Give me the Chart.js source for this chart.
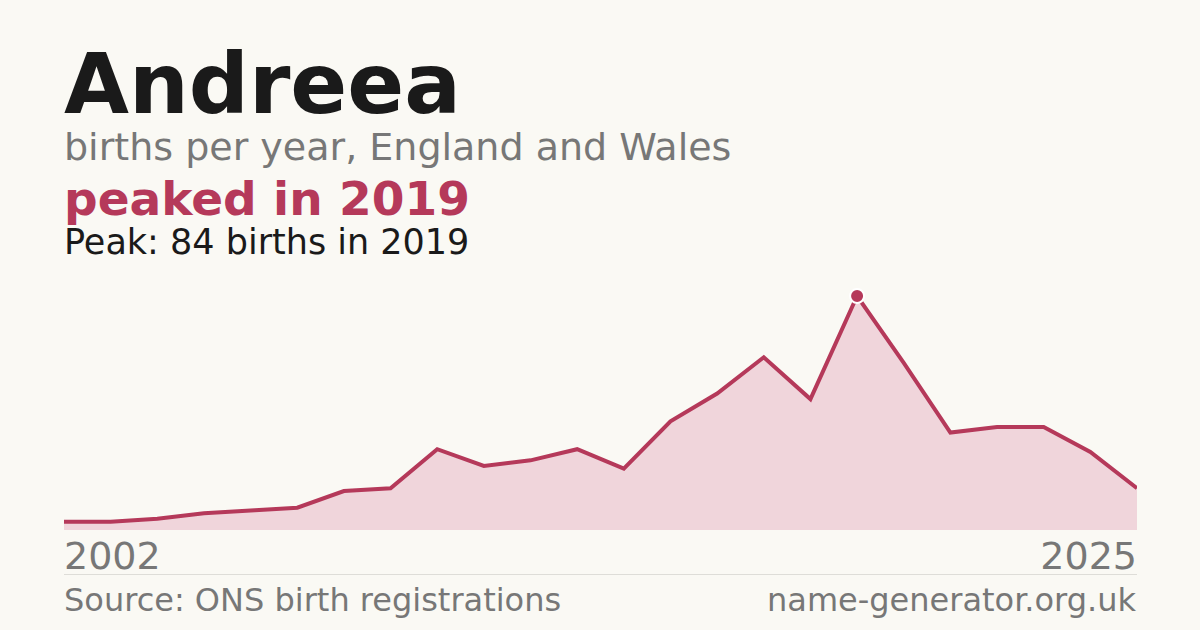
<!DOCTYPE html>
<html><head><meta charset="utf-8">
<script src="https://cdn.jsdelivr.net/npm/chart.js@4"></script>
<style>
body{margin:0;width:1200px;height:630px;background:#faf9f4;font-family:"DejaVu Sans",sans-serif;position:relative;overflow:hidden}
.t{position:absolute;left:64px;white-space:nowrap}
</style></head><body>
<div class="t" style="top:36px;font-size:84px;font-weight:bold;color:#1a1a1a;line-height:96px">Andreea</div>
<div class="t" style="top:124px;font-size:38px;color:#777;line-height:46px">births per year, England and Wales</div>
<div class="t" style="top:172px;font-size:47px;font-weight:bold;color:#b5395a;line-height:54px">peaked in 2019</div>
<div class="t" style="top:221px;font-size:35px;color:#1a1a1a;line-height:42px">Peak: 84 births in 2019</div>
<div style="position:absolute;left:64px;top:280px;width:1073px;height:250px"><canvas id="c"></canvas></div>
<div class="t" style="top:533px;font-size:38px;color:#777;line-height:46px">2002</div>
<div class="t" style="top:533px;left:auto;right:63px;font-size:38px;color:#777;line-height:46px">2025</div>
<div style="position:absolute;left:64px;width:1073px;top:574px;height:1px;background:#deddd8"></div>
<div class="t" style="top:580px;font-size:32px;color:#777;line-height:40px">Source: ONS birth registrations</div>
<div class="t" style="top:580px;left:auto;right:64px;font-size:32px;color:#777;line-height:40px">name-generator.org.uk</div>
<script>
const years=[2002,2003,2004,2005,2006,2007,2008,2009,2010,2011,2012,2013,2014,2015,2016,2017,2018,2019,2020,2021,2022,2023,2024,2025];
const births=[3,3,4,6,7,8,14,15,29,23,25,29,22,39,49,62,47,84,60,35,37,37,28,15];
const peakIdx=births.indexOf(Math.max(...births));
new Chart(document.getElementById('c'),{type:'line',
data:{labels:years,datasets:[{data:births,borderColor:'#b5395a',borderWidth:4,backgroundColor:'#f0d5db',fill:true,tension:0,
pointRadius:births.map((v,i)=>i===peakIdx?7:0),pointBackgroundColor:'#b5395a',pointBorderColor:'#ffffff',pointBorderWidth:2,clip:false}]},
options:{responsive:true,maintainAspectRatio:false,animation:false,layout:{padding:0},
plugins:{legend:{display:false},tooltip:{enabled:false}},
scales:{x:{display:false,offset:false},y:{display:false,min:0,max:84*250/234}}}});
</script>
</body></html>
